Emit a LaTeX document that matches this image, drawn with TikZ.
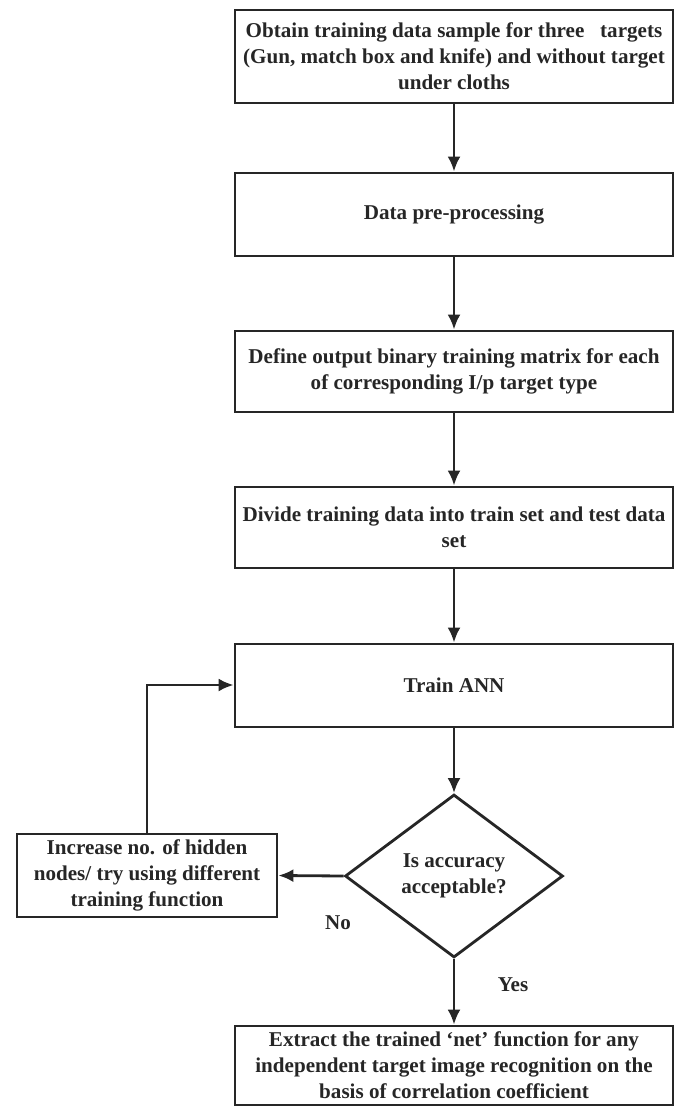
\documentclass[tikz,border=0pt]{standalone}
\usepackage{fontspec}
\setmainfont{Liberation Serif}
\usetikzlibrary{arrows.meta,shapes.geometric}

\begin{document}
\begin{tikzpicture}[x=0.02cm, y=-0.02cm,
    every node/.style={font=\bfseries\fontsize{12}{14.8}\selectfont, text=black!85},
    stage/.style={draw=black!85, line width=1.6pt, align=center, inner sep=0pt,
        minimum width=8.76cm},
    check/.style={draw=black!85, diamond, line width=1.6pt, align=center, inner sep=0pt,
        minimum width=4.36cm, minimum height=3.26cm},
    flow/.style={draw=black!85, line width=1.6pt, -{Latex[length=3mm,width=2.6mm]}}]

    \useasboundingbox (0,0) rectangle (682,1108);

    \node [stage, minimum height=1.86cm] (obtain) at (454,56.5)
        {Obtain training data sample for three~~~targets\\(Gun, match box and knife) and without target\\under cloths};
    \node [stage, minimum height=1.66cm] (prep) at (454,214.5) {Data pre-processing};
    \node [stage, minimum height=1.62cm] (define) at (454,371.5)
        {Define output binary training matrix for each\\of corresponding I/p target type};
    \node [stage, minimum height=1.62cm] (divide) at (454,527.5)
        {Divide training data into train set and test data\\set};
    \node [stage, minimum height=1.66cm] (train) at (454,685.5) {Train ANN};
    \node [check] (acc) at (454,876) {Is accuracy\\acceptable?};
    \node [stage, minimum width=5.2cm, minimum height=1.66cm] (hidden) at (147,875.5)
        {Increase no. of hidden\\nodes/ try using different\\training function};
    \node [stage, minimum height=1.58cm] (extract) at (454,1065.5)
        {Extract the trained ‘net’ function for any\\independent target image recognition on the\\basis of correlation coefficient};

    \node (no) at (338,923) {No};
    \node (yes) at (513,985) {Yes};

    \draw [flow] (obtain) -- (prep);
    \draw [flow] (prep) -- (define);
    \draw [flow] (define) -- (divide);
    \draw [flow] (divide) -- (train);
    \draw [flow] (train) -- (acc);
    \draw [flow] (acc.west) -- (hidden.east);
    \draw [flow] (hidden.north) |- (train.west |- 0,685);
    \draw [flow] (acc.south) -- (extract.north);

\end{tikzpicture}
\end{document}
